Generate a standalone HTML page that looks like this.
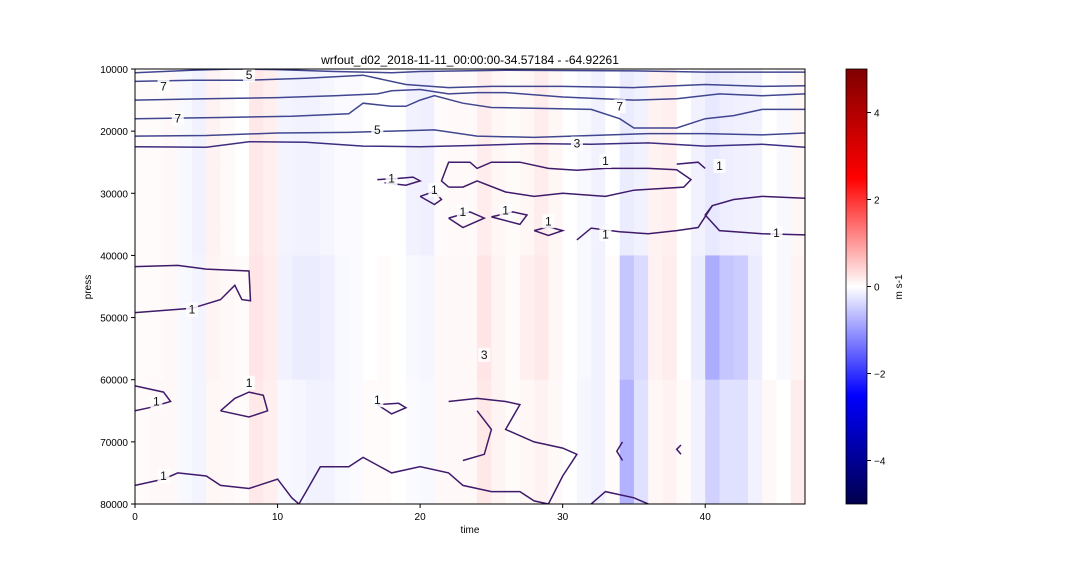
<!DOCTYPE html>
<html><head><meta charset="utf-8"><style>
html,body{margin:0;padding:0;background:#fff;}
svg{display:block;font-family:"Liberation Sans","DejaVu Sans",sans-serif;}
</style></head><body>
<svg id="chart" width="1080" height="576" viewBox="0 0 1080 576">
<defs>
<linearGradient id="cbg" x1="0" y1="1" x2="0" y2="0">
<stop offset="0" stop-color="#00004c"/><stop offset="0.25" stop-color="#0000ff"/>
<stop offset="0.5" stop-color="#ffffff"/><stop offset="0.75" stop-color="#ff0000"/>
<stop offset="1" stop-color="#7f0000"/></linearGradient>
<clipPath id="clip"><rect x="135" y="69" width="670" height="435"/></clipPath>
</defs>
<text x="470" y="64" font-size="12" text-anchor="middle">wrfout_d02_2018-11-11_00:00:00-34.57184 - -64.92261</text>
<g id="cells" clip-path="url(#clip)"></g>
<g id="contours" clip-path="url(#clip)"></g>
<rect x="135" y="69" width="670" height="435" fill="none" stroke="#000" stroke-width="1"/>
<g id="axes" font-size="10"></g>
<text x="470" y="533" font-size="10" text-anchor="middle">time</text>
<text x="91" y="287" font-size="10" text-anchor="middle" transform="rotate(-90 91 287)">press</text>
<rect x="846" y="69" width="21" height="435" fill="url(#cbg)" stroke="#000" stroke-width="0.8"/>
<g id="cbaxis" font-size="10"></g>
<text x="902" y="287" font-size="10" text-anchor="middle" transform="rotate(-90 902 287)">m s-1</text>
</svg>
<script>
// ---- data ----
const timeTicks=[0,10,20,30,40];
const pressTicks=[10000,20000,30000,40000,50000,60000,70000,80000];
const cbTicks=[-4,-2,0,2,4];
const cols=[0,1,2,3,4,5,6,7,8,9,10,11,12,13,14,15,16,17,18,19,20,21,22,23,24,25,26,27,28,29,30,31,32,33,34,35,36,37,38,39,40,41,42,43,44,45,46];
const rowEdges=[10000,15000,20000,25000,30000,35000,40000,45000,50000,55000,60000,65000,70000,75000,80000];
const upperVals=[0.03,0.03,0.06,-0.06,-0.12,0.12,0.05,0,0.22,0.15,-0.1,-0.12,-0.12,-0.08,-0.03,-0.03,0,0,0,-0.12,-0.15,0.03,0.05,0.05,0.18,0.08,0.03,0.08,0.18,0.08,0,-0.06,-0.12,0,-0.18,-0.12,0.12,0.15,0,-0.12,-0.22,-0.16,-0.14,-0.12,0,-0.06,0.08];
const midVals=[0.03,0.03,0.06,-0.06,-0.1,0.1,0.06,0.03,0.25,0.18,-0.12,-0.18,-0.18,-0.15,-0.06,-0.03,0,0.03,0,-0.06,-0.08,0.06,0.06,0.06,0.25,0.1,0.03,0.15,0.22,0.08,0,-0.06,-0.12,0.03,-0.55,-0.35,0.12,0.18,0,-0.18,-0.8,-0.55,-0.5,-0.18,0,-0.06,0.1];
const lowerVals=[0.03,0.06,0.06,-0.06,-0.1,0.08,0.06,0.03,0.22,0.15,-0.06,-0.08,-0.12,-0.12,-0.06,-0.03,0.03,0.03,0,-0.03,-0.06,0.06,0.06,0.06,0.22,0.1,0.03,0.08,0.12,0.06,0,-0.08,-0.12,0.03,-0.75,-0.3,0.08,0.12,0.03,-0.12,-0.45,-0.3,-0.3,-0.12,0.06,0,0.18];
const contourLines=[
 {lvl:5,pts:[[0,10600],[4,10200],[7,10000],[10,10100],[14,10400],[18,10600],[20,10400],[26,10200],[35,10300],[40,10500],[47,10500]]},
 {lvl:5,pts:[[0,12000],[4,11800],[8,11800],[12,11500],[16,11000],[19,12500],[22,13000],[25,12800],[30,12800],[35,13000],[40,12500],[44,12800],[47,12700]]},
 {lvl:7,pts:[[0,15000],[5,14800],[10,14600],[14,14300],[17,14000],[18,13500],[20,13300],[22,14000],[24,13800],[26,13800],[30,14500],[35,15000],[38,14800],[41,14000],[44,14300],[47,14000]]},
 {lvl:7,pts:[[0,18000],[6,17800],[11,17600],[15,17200],[16,15500],[18,16000],[19,16000],[20,15000],[21,14300],[23,15500],[25,16200],[28,16300],[32,16500],[34,18000],[35,19500],[37,19500],[38,19500],[40,18000],[42,17500],[44,16500],[47,16500]]},
 {lvl:5,pts:[[0,20800],[5,20700],[10,20300],[15,20200],[18,20000],[21,19800],[24,20800],[28,21000],[32,20700],[36,20400],[40,20400],[44,20600],[47,20300]]},
 {lvl:3,pts:[[0,22500],[5,22600],[8,21700],[12,21800],[16,22400],[20,22500],[24,22300],[28,22000],[32,22100],[36,21900],[40,22400],[44,22100],[47,22600]]},
 {lvl:1,pts:[[22,29000],[21.5,28000],[22,25000],[23.5,25000],[24,26000],[25,25000],[26,25000],[27,25000],[29,26000],[31,26300],[33,26000],[36,26000],[38,26200],[39,27800],[38.5,29000],[35,29500],[33,30500],[30,30000],[28,30500],[26,29800],[24,28000],[23,29000],[22,29000]]},
 {lvl:1,pts:[[31,37500],[32,35600],[34,36200],[36,36500],[38,36000],[39.5,35500],[40.5,32000],[42,31000],[44,30500],[47,30800]]},
 {lvl:1,pts:[[40.5,32000],[40,33500],[41,36000],[44,36500],[47,36700]]},
 {lvl:1,pts:[[17,27800],[18.5,27600],[19.5,27400],[20,28000],[19,28700],[17.5,28300]]},
 {lvl:1,pts:[[20,30500],[21,29700],[21.5,31000],[21,31800],[20,30500]]},
 {lvl:1,pts:[[22,34000],[23.5,33000],[24.5,34000],[23,35500],[22,34000]]},
 {lvl:1,pts:[[25,33800],[26.5,33000],[27.5,33500],[27,35000],[25,33800]]},
 {lvl:1,pts:[[28,36000],[29,35400],[30,36000],[29,36800],[28,36000]]},
 {lvl:1,pts:[[38,25300],[39.5,25000],[40,26000]]},
 {lvl:1,pts:[[0,41800],[3,41600],[5,42200],[8,42500],[8.1,47300],[7.5,47100],[7,44800],[6,47100],[4,48500],[0,49200]]},
 {lvl:1,pts:[[0,61000],[2,62000],[2.5,63500],[1,64500],[0,65000]]},
 {lvl:1,pts:[[6,65000],[7,63000],[8,62000],[9,62500],[9.3,65000],[8,66000],[6,65000]]},
 {lvl:1,pts:[[17,64000],[18.5,63800],[19,64500],[18,65500],[17,64000]]},
 {lvl:1,pts:[[0,77000],[2,76000],[3,75000],[5,75500],[6,77000],[8,77500],[10,76000],[11,79000],[11.5,80000]]},
 {lvl:1,pts:[[11.5,80000],[12,78000],[13,74000],[15,74000],[16,72500],[18,75000],[20,74000],[22,75000],[23,77000],[25,78000],[27,78000],[28,79500],[29,80000]]},
 {lvl:1,pts:[[22,63500],[24,63000],[26,63500],[27,64000],[26,68000],[28,70000],[30,71000],[31,72000],[30,75500],[29,80000]]},
 {lvl:1,pts:[[32,80000],[33,78000],[35,79000],[36,80000]]},
 {lvl:1,pts:[[23,73000],[24.5,72000],[25,68000],[24,65000]]},
 {lvl:1,pts:[[34.2,70000],[33.8,71500],[34.2,73000]]},
 {lvl:1,pts:[[38.3,70500],[38,71200],[38.3,72000]]}
];
const contourLabels=[[8,11000,"5"],[2,12800,"7"],[3,18000,"7"],[17,19800,"5"],[31,22000,"3"],[33,24800,"1"],[18,27600,"1"],[21,29500,"1"],[23,33000,"1"],[26,32800,"1"],[29,34500,"1"],[33,36600,"1"],[45,36400,"1"],[4,48700,"1"],[8,60500,"1"],[17,63300,"1"],[2,75500,"1"],[41,25600,"1"],[34,16000,"7"],[24.5,56000,"3"],[1.5,63500,"1"]];

// ---- axes funcs ----
const X0=135,X1=805,Y0=69,Y1=504;
const xs=t=>X0+(t/47)*(X1-X0);
const ys=p=>Y0+((p-10000)/70000)*(Y1-Y0);
const cbY=v=>Y1-((v+5)/10)*(Y1-Y0);
function color(v){
 let t=Math.max(-1,Math.min(1,v/5));
 let r,g,b;
 if(t>=0){ if(t<0.5){r=255;g=b=255*(1-2*t);} else {r=255-128*(t-0.5)*2;g=b=0;} }
 else { t=-t; if(t<0.5){b=255;r=g=255*(1-2*t);} else {b=255-179*(t-0.5)*2;r=g=0;} }
 return `rgb(${r|0},${g|0},${b|0})`;
}
const NS="http://www.w3.org/2000/svg";
function mk(tag,attrs,parent){const e=document.createElementNS(NS,tag);for(const k in attrs)e.setAttribute(k,attrs[k]);parent.appendChild(e);return e;}
const cells=document.getElementById('cells');
for(let r=0;r<rowEdges.length-1;r++){
 const p0=rowEdges[r],p1=rowEdges[r+1];
 const arr=p0<40000?upperVals:(p0<60000?midVals:lowerVals);
 cols.forEach((c,i)=>{
  const el=mk('rect',{x:xs(c),y:ys(p0),width:xs(c+1)-xs(c)+0.5,height:ys(p1)-ys(p0)+0.5,fill:color(arr[i])},cells);
  
  
 });
}
const cg=document.getElementById('contours');
contourLines.forEach(c=>{
 const d=c.pts.map((p,i)=>(i?'L':'M')+xs(p[0]).toFixed(1)+','+ys(p[1]).toFixed(1)).join('');
 const el=mk('path',{d:d,fill:'none',stroke:c.lvl>=5?'#40468f':(c.lvl>=3?'#3d2d80':'#3f1a6a'),'stroke-width':1.5},cg);
 
 
});
contourLabels.forEach(l=>{
 const bg=mk('rect',{x:xs(l[0])-6,y:ys(l[1])-7,width:12,height:14,fill:'rgba(255,255,255,0.85)'},cg);
 
 
 const t=mk('text',{x:xs(l[0]),y:ys(l[1])+4,'font-size':12,'text-anchor':'middle',fill:'#111'},cg);
 t.textContent=l[2];
 
 
});
const ax=document.getElementById('axes');
timeTicks.forEach(t=>{
 const l=mk('line',{x1:xs(t),x2:xs(t),y1:Y1,y2:Y1+4,stroke:'#000'},ax);
 
 
 const tx=mk('text',{x:xs(t),y:Y1+16,'text-anchor':'middle'},ax);
 tx.textContent=t;
 
 
});
pressTicks.forEach(p=>{
 const l=mk('line',{x1:X0-4,x2:X0,y1:ys(p),y2:ys(p),stroke:'#000'},ax);
 
 
 const tx=mk('text',{x:X0-7,y:ys(p)+4,'text-anchor':'end'},ax);
 tx.textContent=p;
 
 
});
const cb=document.getElementById('cbaxis');
cbTicks.forEach(v=>{
 const l=mk('line',{x1:867,x2:871,y1:cbY(v),y2:cbY(v),stroke:'#000'},cb);
 
 
 const tx=mk('text',{x:874,y:cbY(v)+4},cb);
 tx.textContent=v<0?'\u2212'+(-v):v;
 
 
});
</script>
</body></html>
